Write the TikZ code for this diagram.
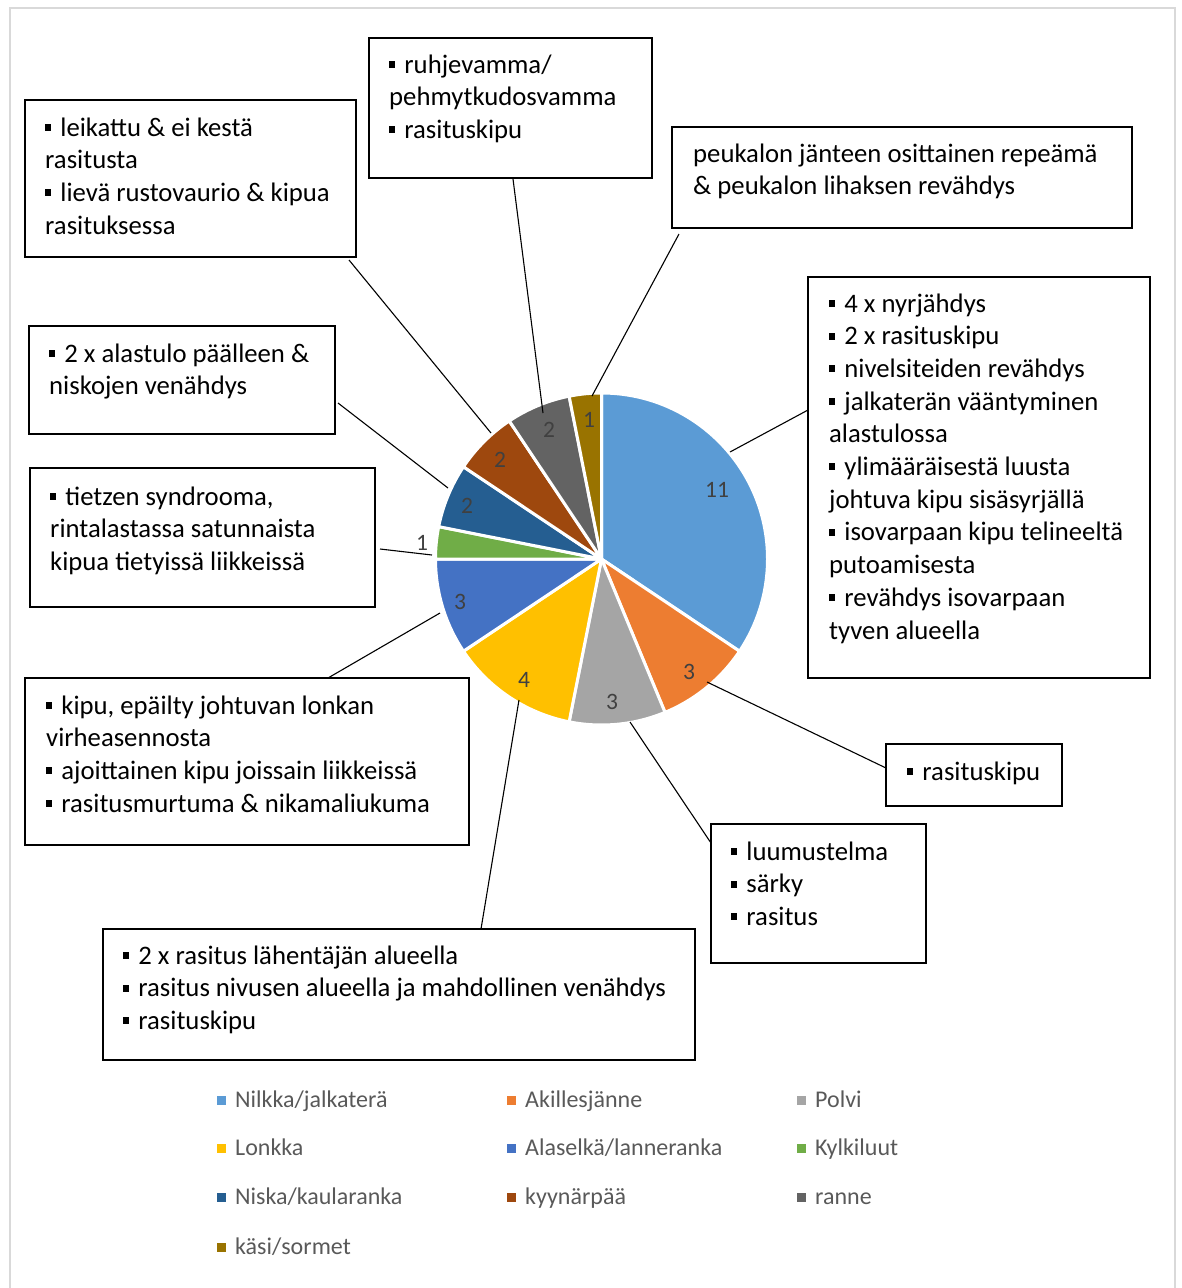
\documentclass[tikz,border=0pt]{standalone}
\usepackage{fontspec}
\setmainfont{Carlito}
\usetikzlibrary{calc}
\definecolor{c1}{HTML}{5B9BD5}
\definecolor{c2}{HTML}{ED7D31}
\definecolor{c3}{HTML}{A5A5A5}
\definecolor{c4}{HTML}{FFC000}
\definecolor{c5}{HTML}{4472C4}
\definecolor{c6}{HTML}{70AD47}
\definecolor{c7}{HTML}{255E91}
\definecolor{c8}{HTML}{9E480E}
\definecolor{c9}{HTML}{636363}
\definecolor{c10}{HTML}{997300}
\definecolor{lblgray}{HTML}{404040}
\definecolor{leggray}{HTML}{595959}
\definecolor{framegray}{HTML}{D9D9D9}
\newcommand\bl{\rule[0.19em]{0.23em}{0.26em}\hspace{0.34em}}
\begin{document}
\begin{tikzpicture}[x=1pt,y=-1pt,
  cbox/.style={draw=black,line width=1.8pt,anchor=north west,inner sep=0pt,outer sep=0pt},
  txt/.style={anchor=base west,inner sep=0pt,font=\fontsize{26.7}{32.7}\selectfont},
  lead/.style={draw=black,line width=1.1pt},
  slice/.style={draw=white,line width=3pt,line join=round},
  dlbl/.style={inner sep=0pt,text=lblgray,font=\fontsize{23.5}{27}\selectfont},
  legm/.style={inner sep=0pt,minimum size=9pt,anchor=west},
  legt/.style={inner sep=0pt,anchor=base west,text=leggray,font=\fontsize{24}{28}\selectfont}]
\useasboundingbox (0,0) rectangle (1181,1288);
\draw[framegray,line width=2pt] (10,1290) -- (10,8) -- (1175,8) -- (1175,1290);

% pie
\begin{scope}[shift={(601.5,559)}]
\foreach \a/\b/\c in {-90/33.75/c1,33.75/67.5/c2,67.5/101.25/c3,101.25/146.25/c4,146.25/180/c5,180/191.25/c6,191.25/213.75/c7,213.75/236.25/c8,236.25/258.75/c9,258.75/270/c10}
  \filldraw[slice,fill=\c] (0,0) -- (\a:166) arc[start angle=\a,end angle=\b,radius=166] -- cycle;
\end{scope}

% data labels
\node[dlbl] (d1) at (717,490) {11};
\node[dlbl] (d2) at (689,672) {3};
\node[dlbl] (d3) at (612,702) {3};
\node[dlbl] (d4) at (524,680) {4};
\node[dlbl] (d5) at (460,602) {3};
\node[dlbl] (d6) at (422,543) {1};
\node[dlbl] (d7) at (467,506) {2};
\node[dlbl] (d8) at (500,460) {2};
\node[dlbl] (d9) at (549,430) {2};
\node[dlbl] (d10) at (589,420) {1};

% boxes
\node[cbox,minimum width=331pt,minimum height=157pt] (bA) at (25,100) {};
\node[cbox,minimum width=283pt,minimum height=140pt] (bB) at (369,38) {};
\node[cbox,minimum width=460pt,minimum height=101pt] (bC) at (672,127) {};
\node[cbox,minimum width=342pt,minimum height=401pt] (bD) at (808,277) {};
\node[cbox,minimum width=306pt,minimum height=108pt] (bE) at (29,326) {};
\node[cbox,minimum width=345pt,minimum height=139pt] (bF) at (30,468) {};
\node[cbox,minimum width=444pt,minimum height=167pt] (bG) at (25,678) {};
\node[cbox,minimum width=176pt,minimum height=62pt] (bH) at (886,744) {};
\node[cbox,minimum width=215pt,minimum height=139pt] (bI) at (711,824) {};
\node[cbox,minimum width=592pt,minimum height=131pt] (bJ) at (103,929) {};

% texts
\node[txt] (tA) at (45,136) {\begin{tabular}[t]{@{}l@{}}\bl leikattu \& ei kestä\\ rasitusta\\ \bl lievä rustovaurio \& kipua\\ rasituksessa\end{tabular}};
\node[txt] (tB) at (389,73) {\begin{tabular}[t]{@{}l@{}}\bl ruhjevamma/\\ pehmytkudosvamma\\ \bl rasituskipu\end{tabular}};
\node[txt] (tC) at (693,162) {\begin{tabular}[t]{@{}l@{}}peukalon jänteen osittainen repeämä\\ \& peukalon lihaksen revähdys\end{tabular}};
\node[txt] (tD) at (829,312) {\begin{tabular}[t]{@{}l@{}}\bl 4 x nyrjähdys\\ \bl 2 x rasituskipu\\ \bl nivelsiteiden revähdys\\ \bl jalkaterän vääntyminen\\ alastulossa\\ \bl ylimääräisestä luusta\\ johtuva kipu sisäsyrjällä\\ \bl isovarpaan kipu telineeltä\\ putoamisesta\\ \bl revähdys isovarpaan\\ tyven alueella\end{tabular}};
\node[txt] (tE) at (49,362) {\begin{tabular}[t]{@{}l@{}}\bl 2 x alastulo päälleen \&\\ niskojen venähdys\end{tabular}};
\node[txt] (tF) at (50,505) {\begin{tabular}[t]{@{}l@{}}\bl tietzen syndrooma,\\ rintalastassa satunnaista\\ kipua tietyissä liikkeissä\end{tabular}};
\node[txt] (tG) at (46,714) {\begin{tabular}[t]{@{}l@{}}\bl kipu, epäilty johtuvan lonkan\\ virheasennosta\\ \bl ajoittainen kipu joissain liikkeissä\\ \bl rasitusmurtuma \& nikamaliukuma\end{tabular}};
\node[txt] (tH) at (907,780) {\bl rasituskipu};
\node[txt] (tI) at (731,860) {\begin{tabular}[t]{@{}l@{}}\bl luumustelma\\ \bl särky\\ \bl rasitus\end{tabular}};
\node[txt] (tJ) at (123,964) {\begin{tabular}[t]{@{}l@{}}\bl 2 x rasitus lähentäjän alueella\\ \bl rasitus nivusen alueella ja mahdollinen venähdys\\ \bl rasituskipu\end{tabular}};

% leader lines
\coordinate (p1) at (730,452);  \coordinate (e1) at (808,410);
\coordinate (p2) at (707,682);  \coordinate (e2) at (886,768);
\coordinate (p3) at (630,722);  \coordinate (e3) at (711,843);
\coordinate (p4) at (519,700);  \coordinate (e4) at (481,929);
\coordinate (p5) at (440,613);  \coordinate (e5) at (328,678);
\coordinate (p6) at (432,555);  \coordinate (e6) at (380,549);
\coordinate (p7) at (448,488);  \coordinate (e7) at (338,403);
\coordinate (p8) at (491,433);  \coordinate (e8) at (349,260);
\coordinate (p9) at (543,413);  \coordinate (e9) at (513,179);
\coordinate (p10) at (592,396); \coordinate (e10) at (679,234);
\foreach \i in {1,...,10} \draw[lead] (p\i) -- (e\i);

% legend
\foreach \n/\c/\t/\x/\y in {1/c1/Nilkka\slash jalkaterä/217/1100, 2/c2/Akillesjänne/507/1100, 3/c3/Polvi/797/1100,
  4/c4/Lonkka/217/1148, 5/c5/Alaselkä\slash lanneranka/507/1148, 6/c6/Kylkiluut/797/1148,
  7/c7/Niska\slash kaularanka/217/1197, 8/c8/kyynärpää/507/1197, 9/c9/ranne/797/1197,
  10/c10/käsi\slash sormet/217/1247}
{
  \node[legm,fill=\c] (m\n) at (\x,\y) {};
  \node[legt] (g\n) at ($(\x,\y)+(18,7)$) {\t};
}
\end{tikzpicture}
\end{document}
